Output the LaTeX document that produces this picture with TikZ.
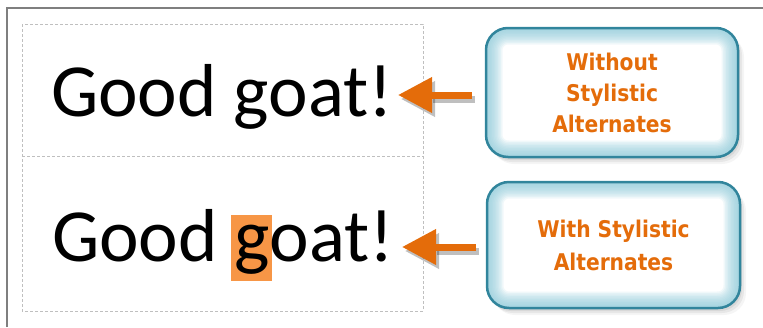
\documentclass[tikz,border=0pt]{standalone}
\usepackage{fontspec}
\newfontfamily\goatfont{Carlito}
\newfontfamily\calloutfont[FakeStretch=0.88]{DejaVu Sans}
\usetikzlibrary{arrows.meta,shadows}

\definecolor{framegray}{HTML}{7F7F7F}
\definecolor{cellgray}{HTML}{BFBFBF}
\definecolor{pointerorange}{HTML}{E46C0A}
\definecolor{hlorange}{HTML}{F79646}
\definecolor{calloutteal}{HTML}{31859C}
\definecolor{glowblue}{HTML}{92CDDC}

% orange mark behind the alternate g
\newcommand{\hlg}{\makebox[0pt][l]{\hspace{-3.5pt}\textcolor{hlorange}{\rule[-20pt]{41pt}{66pt}}}g}

\tikzset{
    cellline/.style={cellgray, line width=0.8pt, dash pattern=on 3pt off 2pt},
    goat/.style={font=\goatfont\fontsize{75pt}{80pt}\selectfont, inner sep=0pt, anchor=base},
    callout/.style={draw=calloutteal, line width=2.5pt, rounded corners=22pt, fill=white,
        minimum width=252pt, minimum height=129pt, align=center, text=pointerorange,
        font=\calloutfont\bfseries\fontsize{23pt}{31pt}\selectfont,
        drop shadow={shadow xshift=2pt, shadow yshift=-3pt, opacity=.15},
        drop shadow={shadow xshift=4pt, shadow yshift=-5pt, opacity=.12},
        drop shadow={shadow xshift=6pt, shadow yshift=-7pt, opacity=.08},
        path picture={
            \foreach \w in {3,6,...,33}
                \draw[glowblue, opacity=.13, line width=\w pt, rounded corners=22pt]
                    (path picture bounding box.north west) rectangle (path picture bounding box.south east);
        }},
    pointer/.style={pointerorange, line width=7pt, -{Triangle[length=34pt 0 0, width=34pt 0 0]}},
    pointershadow/.style={pointer, black, opacity=.25, transform canvas={xshift=3pt, yshift=-4pt}},
}

\begin{document}
\begin{tikzpicture}[x=1pt, y=-1pt]
    \useasboundingbox (0,0) rectangle (763,327);

    % frame and table
    \draw[framegray, line width=2pt] (7,327) -- (7,8) -- (763,8);
    \draw[cellline] (22,24) rectangle (423,311);
    \draw[cellline] (22,156) -- (423,156);

    \node[goat] (plain) at (222,116) {Good goat!};
    \node[goat] (alt) at (223,261) {Good \hlg oat!};

    \node[callout] (without) at (612,92.5) {Without\\Stylistic\\Alternates};
    \node[callout, minimum width=253pt, minimum height=126pt] (with) at (613.5,245) {With Stylistic\\[2pt]Alternates};

    % arrows
    \coordinate (plaintip) at (398,95);
    \coordinate (alttip) at (402,247);
    \draw[pointershadow, shorten <=13pt] (without.west |- plaintip) -- (plaintip);
    \draw[pointer, shorten <=13pt] (without.west |- plaintip) -- (plaintip);
    \draw[pointershadow, shorten <=10pt] (with.west |- alttip) -- (alttip);
    \draw[pointer, shorten <=10pt] (with.west |- alttip) -- (alttip);
\end{tikzpicture}
\end{document}
